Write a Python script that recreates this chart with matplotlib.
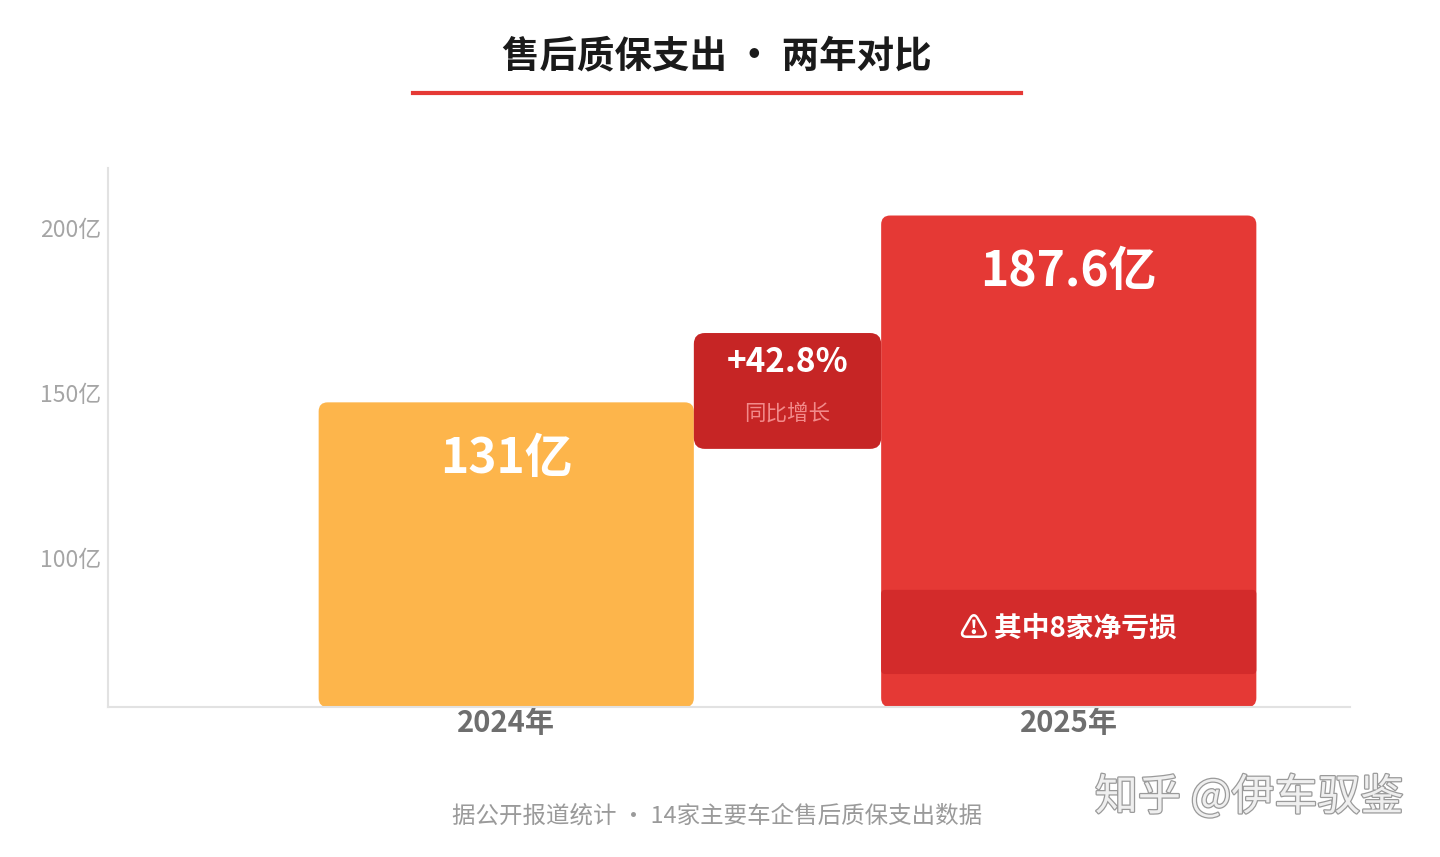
import matplotlib
matplotlib.use("Agg")
import matplotlib.pyplot as plt
from matplotlib.patches import FancyBboxPatch
import matplotlib.patheffects as pe

plt.rcParams['font.family'] = ['Noto Sans CJK SC', 'DejaVu Sans']

years = ["2024年", "2025年"]
values = [131, 187.6]
value_labels = ["131亿", "187.6亿"]
growth_label = "+42.8%"
growth_sub = "同比增长"
loss_note = "⚠ 其中8家净亏损"
ytick_values = [100, 150, 200]
ytick_labels = ["100亿", "150亿", "200亿"]
title = "售后质保支出 · 两年对比"
footer = "据公开报道统计 · 14家主要车企售后质保支出数据"
watermark = "知乎 @伊车驭鉴"

bar_colors = ["#FDB54B", "#E53935"]

fig = plt.figure(figsize=(14.4, 8.57), dpi=100)
ax = fig.add_axes([0.075, 0.175, 0.8625, 0.629])

base = 38.7
ax.set_ylim(base, 202.0)
ax.set_xlim(-0.708, 1.5)
w = 0.667
x = list(range(len(values)))

# px per unit, for rounded corners
px_x = 562.5
px_y = 3.3
aspect = px_x / px_y
r = 9 / px_x

for xi, v, c in zip(x, values, bar_colors):
    p = FancyBboxPatch((xi - w / 2, base), w, v - base,
                       boxstyle=f"round,pad=0,rounding_size={r}",
                       mutation_aspect=aspect, fc=c, ec="none", zorder=2)
    ax.add_patch(p)

for xi, v, lab in zip(x, values, value_labels):
    ax.text(xi, v - 17, lab, ha="center", va="center", color="white",
            fontsize=34.5, fontweight="bold", zorder=4)

# dark band in 2025 bar
band = FancyBboxPatch((x[1] - w / 2, 48.7), w, 25.5,
                      boxstyle=f"round,pad=0,rounding_size={4 / px_x}",
                      mutation_aspect=aspect, fc="#D32B2B", ec="none", zorder=3)
ax.add_patch(band)
ax.text(x[1], 62.3, loss_note, ha="center", va="center", color="white",
        fontsize=20, fontweight="bold", zorder=4)

# growth box between bars
gx0 = x[0] + w / 2
gx1 = x[1] - w / 2
gbox = FancyBboxPatch((gx0, 116.9), gx1 - gx0, 35.1,
                      boxstyle=f"round,pad=0,rounding_size={11 / px_x}",
                      mutation_aspect=aspect, fc="#C62525", ec="none", zorder=3)
ax.add_patch(gbox)
ax.text((gx0 + gx1) / 2, 143.0, growth_label, ha="center", va="center",
        color="white", fontsize=24, fontweight="bold", zorder=4)
ax.text((gx0 + gx1) / 2, 127.6, growth_sub, ha="center", va="center",
        color="#F28A8A", fontsize=15.5, zorder=4)

ax.set_xticks(x)
ax.set_xticklabels(years, fontsize=21, fontweight="bold", color="#6E6E6E")
ax.tick_params(axis="x", length=0, pad=1)
ax.set_yticks([])

for s in ["top", "right"]:
    ax.spines[s].set_visible(False)
ax.spines["left"].set_color("#E2E2E2")
ax.spines["bottom"].set_color("#E2E2E2")
ax.spines["left"].set_linewidth(1.5)
ax.spines["bottom"].set_linewidth(1.5)

# value scale shown on the left
off = 16.2
sec = ax.secondary_yaxis("left", functions=(lambda v: v + off, lambda v: v - off))
sec.set_yticks(ytick_values)
sec.set_yticklabels(ytick_labels, fontsize=16.5, color="#A5A5A5")
sec.tick_params(length=0, pad=5)
sec.spines["left"].set_visible(False)

fig.text(0.498, 0.935, title, ha="center", va="center", fontsize=27,
         fontweight="bold", color="#1A1A1A")
fig.add_artist(plt.Line2D([413 / 1440, 1021 / 1440], [1 - 93 / 857, 1 - 93 / 857],
                          color="#E53935", lw=3))
fig.text(0.498, 1 - 816 / 857, footer, ha="center", va="center", fontsize=16.9,
         color="#9A9A9A")
fig.text(1249 / 1440, 1 - 798 / 857, watermark, ha="center", va="center",
         fontsize=31, color="#EFEFEF",
         path_effects=[pe.withStroke(linewidth=1.8, foreground="#9A9A9A")])

fig.savefig("out.png", dpi=100, facecolor="white")
